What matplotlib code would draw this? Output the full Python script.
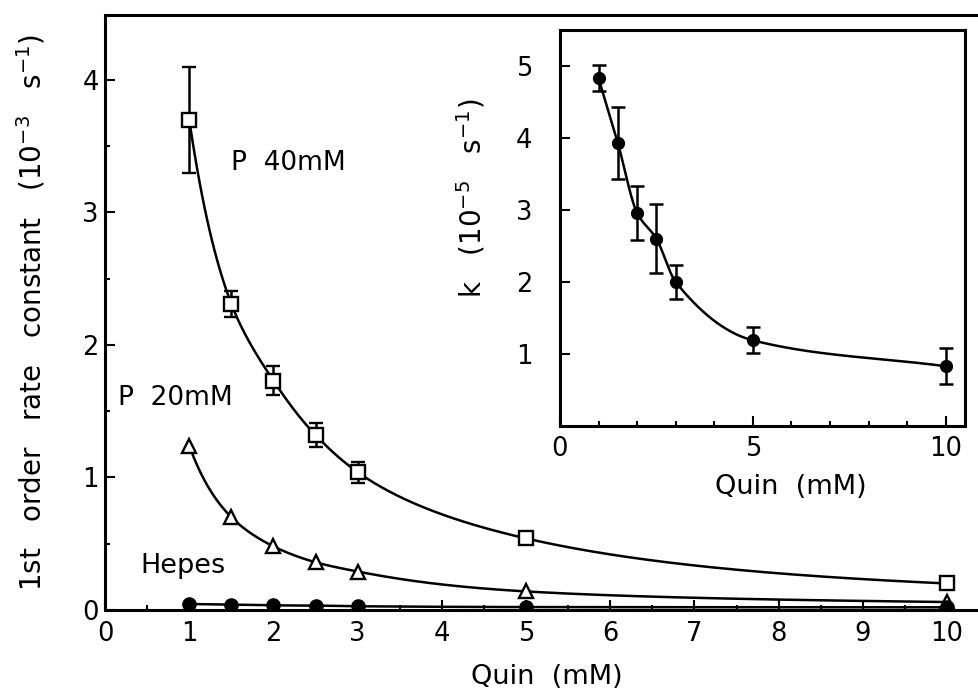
import numpy as np
import matplotlib
matplotlib.use('Agg')
import matplotlib.pyplot as plt
from matplotlib.ticker import MultipleLocator

# main panel data
quin = [1, 1.5, 2, 2.5, 3, 5, 10]
p40 = [3.70, 2.31, 1.73, 1.32, 1.04, 0.54, 0.20]
p40_err = [0.40, 0.10, 0.11, 0.09, 0.08, 0.0, 0.0]
p20 = [1.24, 0.70, 0.48, 0.36, 0.29, 0.14, 0.06]
hepes = [0.045, 0.040, 0.035, 0.033, 0.028, 0.022, 0.020]

# inset data
inset_quin = [1, 1.5, 2, 2.5, 3, 5, 10]
inset_k = [4.83, 3.93, 2.96, 2.60, 2.00, 1.19, 0.83]
inset_err = [0.18, 0.50, 0.37, 0.48, 0.23, 0.18, 0.25]


def pchip(x, y, xs):
    x = np.asarray(x, float)
    y = np.asarray(y, float)
    h = np.diff(x)
    d = np.diff(y) / h
    m = np.zeros_like(y)
    m[0], m[-1] = d[0], d[-1]
    for k in range(1, len(x) - 1):
        if d[k - 1] * d[k] > 0:
            w1 = 2 * h[k] + h[k - 1]
            w2 = h[k] + 2 * h[k - 1]
            m[k] = (w1 + w2) / (w1 / d[k - 1] + w2 / d[k])
    idx = np.clip(np.searchsorted(x, xs) - 1, 0, len(x) - 2)
    t = (xs - x[idx]) / h[idx]
    h00 = 2 * t**3 - 3 * t**2 + 1
    h10 = t**3 - 2 * t**2 + t
    h01 = -2 * t**3 + 3 * t**2
    h11 = t**3 - t**2
    return (h00 * y[idx] + h10 * h[idx] * m[idx]
            + h01 * y[idx + 1] + h11 * h[idx] * m[idx + 1])


def loglog_curve(x, y):
    xs = np.linspace(min(x), max(x), 300)
    ys = np.exp(pchip(np.log(x), np.log(y), np.log(xs)))
    return xs, ys


plt.rcParams['font.family'] = 'DejaVu Sans'
tfs = 18.5   # tick labels
lfs = 19.5   # axis labels / annotations
lw = 1.8

fig = plt.figure(figsize=(9.79, 6.89), dpi=100)
ax = fig.add_axes([0.1073, 0.1147, 0.8927, 0.8636])

xs, ys = loglog_curve(quin, p40)
ax.plot(xs, ys, color='black', lw=lw, zorder=2)
xs, ys = loglog_curve(quin, p20)
ax.plot(xs, ys, color='black', lw=lw, zorder=2)
xs = np.linspace(min(quin), max(quin), 300)
ax.plot(xs, pchip(quin, hepes, xs), color='black', lw=lw, zorder=2)

ax.errorbar(quin, p40, yerr=p40_err, fmt='s', ms=10, mfc='white', mec='black',
            mew=1.7, ecolor='black', elinewidth=1.8, capsize=5, capthick=1.8, zorder=3)
ax.plot(quin, p20, '^', ms=10, mfc='white', mec='black', mew=1.7, zorder=3)
ax.plot(quin, hepes, 'o', ms=9.5, mfc='black', mec='black', zorder=3)

ax.text(1.5, 3.37, 'P  40mM', fontsize=19, va='center', ha='left')
ax.text(0.15, 1.6, 'P  20mM', fontsize=19, va='center', ha='left')
ax.text(0.42, 0.33, 'Hepes', fontsize=lfs, va='center', ha='left')

ax.set_xlim(0, 10.38)
ax.set_ylim(0, 4.49)
ax.xaxis.set_major_locator(MultipleLocator(1))
ax.xaxis.set_minor_locator(MultipleLocator(0.5))
ax.yaxis.set_major_locator(MultipleLocator(1))
ax.yaxis.set_minor_locator(MultipleLocator(0.5))
ax.tick_params(which='both', direction='in', labelsize=tfs, width=1.5)
ax.tick_params(which='major', length=7)
ax.tick_params(which='minor', length=3.5)
ax.tick_params(axis='x', pad=8)
ax.tick_params(axis='y', pad=4.5)
ax.spines['right'].set_visible(False)
for s in ['left', 'bottom', 'top']:
    ax.spines[s].set_linewidth(2.2)
ax.set_xlabel('Quin  (mM)', fontsize=lfs, va='top')
ax.xaxis.set_label_coords(0.505, -0.09)
ax.set_ylabel('1st   order   rate   constant   (10$^{-3}$   s$^{-1}$)', fontsize=20)
ax.yaxis.set_label_coords(-0.066, 0.5)

# inset
ins = fig.add_axes([0.572, 0.3817, 0.4137, 0.5747])
xs = np.linspace(min(inset_quin), max(inset_quin), 300)
ins.plot(xs, pchip(inset_quin, inset_k, xs), color='black', lw=lw, zorder=2)
ins.errorbar(inset_quin, inset_k, yerr=inset_err, fmt='o', ms=8.5, mfc='black', mec='black',
             ecolor='black', elinewidth=1.8, capsize=5, capthick=1.8, zorder=3)
ins.set_xlim(0, 10.5)
ins.set_ylim(0, 5.5)
ins.xaxis.set_major_locator(MultipleLocator(5))
ins.xaxis.set_minor_locator(MultipleLocator(1))
ins.set_yticks([1, 2, 3, 4, 5])
ins.tick_params(which='both', direction='in', labelsize=tfs, width=1.5)
ins.tick_params(which='major', length=7)
ins.tick_params(which='minor', length=3.5)
ins.tick_params(axis='x', pad=7.5)
ins.tick_params(axis='y', pad=20)
for s in ins.spines.values():
    s.set_linewidth(2.2)
ins.set_xlabel('Quin  (mM)', fontsize=lfs, va='top')
ins.xaxis.set_label_coords(0.57, -0.122)
ins.set_ylabel('k   (10$^{-5}$   s$^{-1}$)', fontsize=20)
ins.yaxis.set_label_coords(-0.178, 0.576)

fig.savefig('out.png', dpi=100)
